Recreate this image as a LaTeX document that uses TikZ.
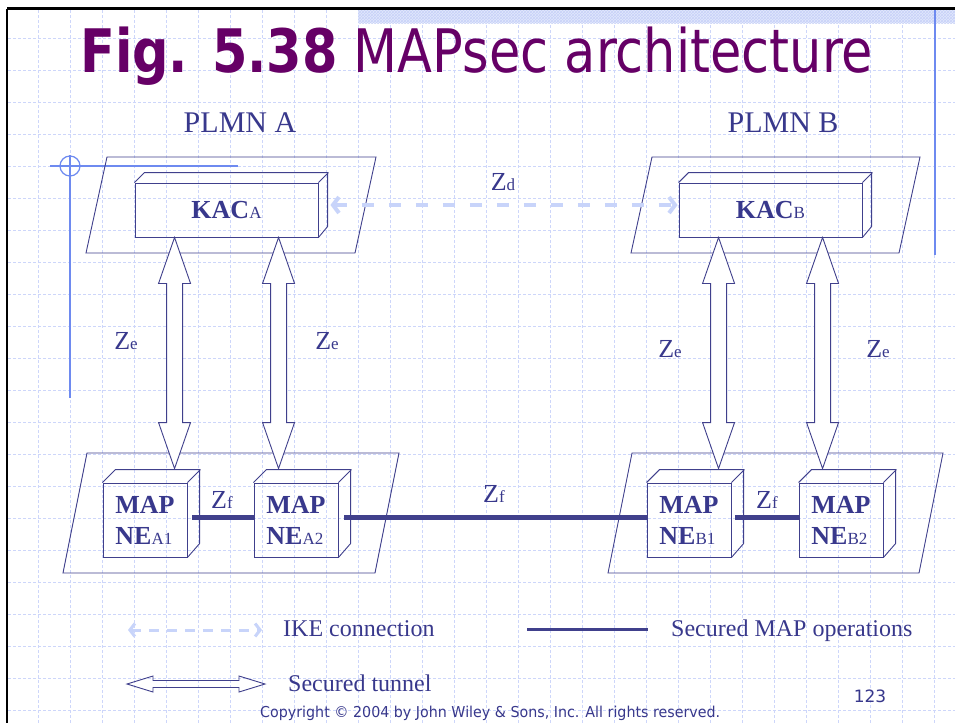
\documentclass[tikz,border=0pt]{standalone}
\usepackage{fontspec}
\setmainfont{Liberation Serif}
\newfontfamily\tahoma{DejaVu Sans}
\usetikzlibrary{calc,arrows.meta,patterns}
\definecolor{navy}{RGB}{56,56,140}
\definecolor{linec}{RGB}{64,64,140}
\definecolor{purp}{RGB}{102,0,102}
\definecolor{gridc}{RGB}{205,214,250}
\definecolor{ike}{RGB}{200,212,250}
\definecolor{deco}{RGB}{110,138,240}
\definecolor{bandc}{RGB}{226,232,252}
\definecolor{bandp}{RGB}{200,210,248}
\newcommand\fsz[1]{\fontsize{#1}{#1}\selectfont}
\newcommand\zearrow[2]{\draw[zeArrow] (#1) -- ($(#1)+(16,46)$) -- ($(#1)+(8,46)$) -- ($(#2)+(8,-46)$) -- ($(#2)+(16,-46)$) -- (#2) -- ($(#2)+(-16,-46)$) -- ($(#2)+(-8,-46)$) -- ($(#1)+(-8,46)$) -- ($(#1)+(-16,46)$) -- cycle;}
\newcommand\tunnelarrow[2]{\draw[tunnelA] (#1) -- ($(#1)+(26,-8)$) -- ($(#1)+(26,-3.5)$) -- ($(#2)+(-26,-3.5)$) -- ($(#2)+(-26,-8)$) -- (#2) -- ($(#2)+(-26,8)$) -- ($(#2)+(-26,3.5)$) -- ($(#1)+(26,3.5)$) -- ($(#1)+(26,8)$) -- cycle;}
\begin{document}
\begin{tikzpicture}[x=1pt,y=-1pt,
  gridline/.style={draw=gridc, line width=1pt, dash pattern=on 3pt off 2pt},
  plane/.style={draw=linec, line width=0.9pt, line join=miter},
  side/.style={draw=linec, line width=0.9pt},
  kacbox/.style={draw=linec, line width=0.9pt, inner sep=0pt, text=navy, minimum width=183pt, minimum height=54pt},
  nebox/.style={draw=linec, line width=0.9pt, inner sep=0pt, text=navy, minimum width=84pt, minimum height=74pt, align=left, font=\fontsize{26}{31}\selectfont\bfseries},
  zeArrow/.style={draw=linec, fill=white, line width=0.9pt, line join=miter},
  tunnelA/.style={draw=linec, line width=0.9pt, line join=miter},
  zfline/.style={draw=linec, line width=5pt},
  ikearrow/.style={draw=ike, line width=4pt, dash pattern=on 12pt off 15pt, {Straight Barb[length=6pt,width=16pt]}-{Straight Barb[length=6pt,width=16pt]}},
  ikelegend/.style={draw=ike, line width=3pt, dash pattern=on 10pt off 8pt, {Straight Barb[length=5pt,width=13pt]}-{Straight Barb[length=5pt,width=13pt]}},
  lbl/.style={text=navy, inner sep=0pt, anchor=base},
  lbll/.style={text=navy, inner sep=0pt, anchor=base west}]
\useasboundingbox (0,0) rectangle (955,723);
\fill[white] (0,0) rectangle (955,723);
% grid
\foreach \x in {38,70,...,934} \draw[gridline] (\x,10) -- (\x,723);
\foreach \y in {38,70,...,710} \draw[gridline] (8,\y) -- (955,\y);
% top band and frame
\fill[bandc] (358,10) rectangle (955,23);
\fill[pattern=crosshatch, pattern color=bandp] (358,10) rectangle (955,23);
\draw[black, line width=2.6pt] (7,8.5) -- (955,8.5);
\draw[black, line width=2.4pt] (7,8.5) -- (7,723);
% blue decorations
\draw[deco, line width=2pt] (935,10) -- (935,255);
\draw[deco, line width=2pt] (70,155) -- (70,398);
\draw[deco, line width=1.2pt] (50,166) -- (238,166);
\draw[deco, line width=1.2pt] (70,166) circle (10);
% title
\node[anchor=base west, inner sep=0pt, text=purp] (title) at (80,72) {\resizebox{793pt}{\height}{\tahoma\fsz{60}\textbf{Fig. 5.38} MAPsec architecture}};
\node[lbl] (plmnA) at (240,132) {\fsz{30}PLMN A};
\node[lbl] (plmnB) at (783,132) {\fsz{30}PLMN B};
% planes
\draw[plane] (107,157) -- (376,157) -- (355,253) -- (86,253) -- cycle;
\draw[plane] (652,157) -- (920,157) -- (899,253) -- (631,253) -- cycle;
\draw[plane] (87,453) -- (399,453) -- (375,573) -- (63,573) -- cycle;
\draw[plane] (632,453) -- (943,453) -- (919,573) -- (608,573) -- cycle;
% KAC boxes
\node[kacbox] (kacA) at (226.5,210) {\fsz{26}\bfseries KAC{\fsz{17}\mdseries A}};
\node[kacbox] (kacB) at (770.5,210) {\fsz{26}\bfseries KAC{\fsz{17}\mdseries B}};
\foreach \b in {kacA,kacB}{
  \draw[side] (\b.north west) -- ++(10,-10) -- ++(183,0) -- ++(0,54) -- (\b.south east);
  \draw[side] (\b.north east) -- ++(10,-10);
}
% MAP NE boxes
\node[nebox] (neA1) at (145,520) {MAP\\NE{\fontsize{17}{31}\selectfont\mdseries A1}};
\node[nebox] (neA2) at (296,520) {MAP\\NE{\fontsize{17}{31}\selectfont\mdseries A2}};
\node[nebox] (neB1) at (689,520) {MAP\\NE{\fontsize{17}{31}\selectfont\mdseries B1}};
\node[nebox] (neB2) at (841,520) {MAP\\NE{\fontsize{17}{31}\selectfont\mdseries B2}};
\foreach \b in {neA1,neA2,neB1,neB2}{
  \draw[side] (\b.north west) -- ++(13,-13) -- ++(84,0) -- ++(0,74) -- (\b.south east);
  \draw[side] (\b.north east) -- ++(13,-13);
}
% Zf lines
\draw[zfline] ($(neA1.east)+(5,-3)$) -- ($(neA2.west)+(0,-3)$);
\draw[zfline] ($(neA2.east)+(6,-3)$) -- ($(neB1.west)+(0,-3)$);
\draw[zfline] ($(neB1.east)+(4,-3)$) -- ($(neB2.west)+(0,-3)$);
% Ze arrows
\coordinate (zeA1t) at ($(kacA.south west)+(40,0)$);
\coordinate (zeA1b) at ($(neA1.north west)+(72,-14)$);
\coordinate (zeA2t) at ($(kacA.south west)+(144,0)$);
\coordinate (zeA2b) at ($(neA2.north west)+(25,-14)$);
\coordinate (zeB1t) at ($(kacB.south west)+(40,0)$);
\coordinate (zeB1b) at ($(neB1.north west)+(72,-14)$);
\coordinate (zeB2t) at ($(kacB.south west)+(144,0)$);
\coordinate (zeB2b) at ($(neB2.north west)+(24,-14)$);
\zearrow{zeA1t}{zeA1b}
\zearrow{zeA2t}{zeA2b}
\zearrow{zeB1t}{zeB1b}
\zearrow{zeB2t}{zeB2b}
% Zd arrow
\draw[ikearrow] ($(kacA.east)+(12,-5)$) -- ($(kacB.west)+(-1,-5)$);
% labels
\node[lbl] (zd) at (503,190) {\fsz{26}Z{\fsz{17}d}};
\node[lbl] (ze1) at (126,349) {\fsz{26}Z{\fsz{17}e}};
\node[lbl] (ze2) at (327,349) {\fsz{26}Z{\fsz{17}e}};
\node[lbl] (ze3) at (670,357) {\fsz{26}Z{\fsz{17}e}};
\node[lbl] (ze4) at (878,357) {\fsz{26}Z{\fsz{17}e}};
\node[lbl] (zf1) at (222,508) {\fsz{26}Z{\fsz{17}f}};
\node[lbl] (zf2) at (494,502) {\fsz{26}Z{\fsz{17}f}};
\node[lbl] (zf3) at (767,508) {\fsz{26}Z{\fsz{17}f}};
% legend
\coordinate (ikeL) at (128,630);
\coordinate (ikeR) at (262,630);
\draw[ikelegend] (ikeL) -- (ikeR);
\node[lbll] (ikeT) at (283,636) {\fsz{24}IKE connection};
\coordinate (secL) at (527,629);
\coordinate (secR) at (648,629);
\draw[draw=linec, line width=3pt] (secL) -- (secR);
\node[lbll] (secT) at (671,636) {\fsz{24}Secured MAP operations};
\coordinate (tunL) at (127,684);
\coordinate (tunR) at (265,684);
\tunnelarrow{tunL}{tunR}
\node[lbll] (tunT) at (288,691) {\fsz{24}Secured tunnel};
\node[lbl] (pg) at (870,702) {\tahoma\fsz{17}123};
\node[anchor=base west, inner sep=0pt, text=navy] (copy) at (260,717) {\resizebox{460pt}{\height}{\tahoma\fsz{15}Copyright © 2004 by John Wiley \& Sons, Inc. All rights reserved.}};
\end{tikzpicture}
\end{document}
